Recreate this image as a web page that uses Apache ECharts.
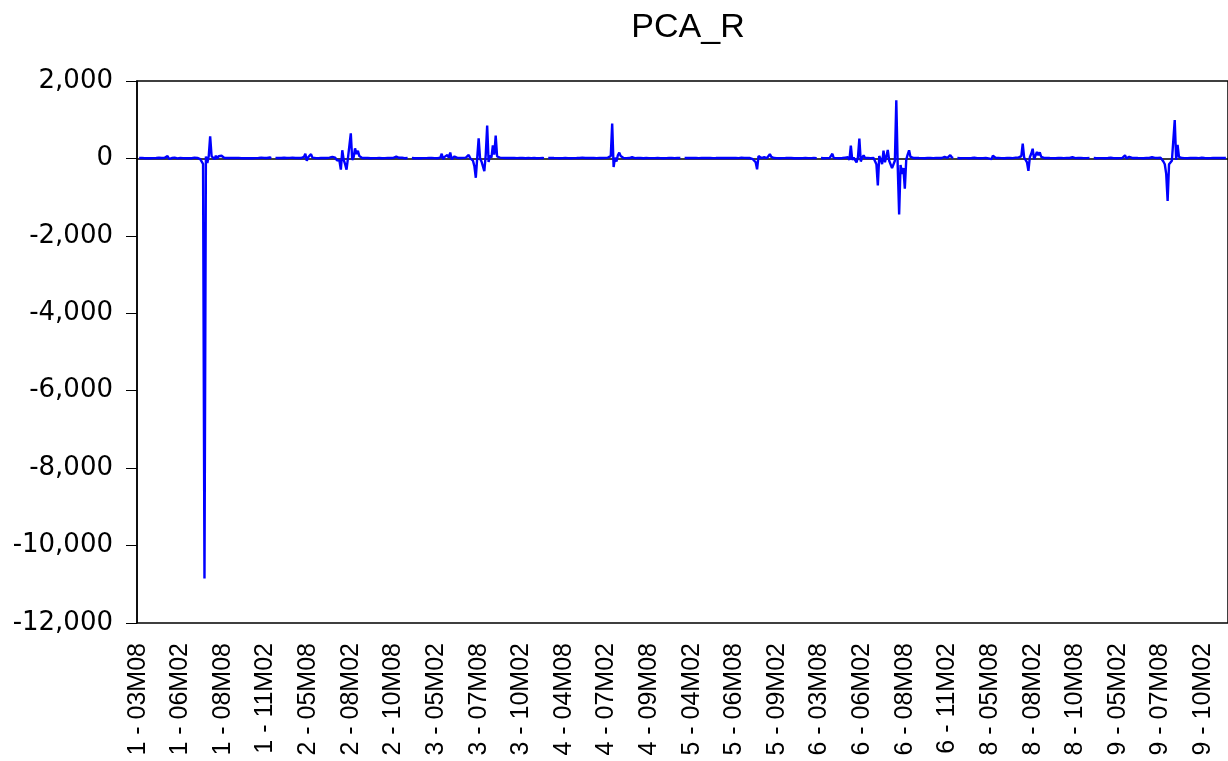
<!DOCTYPE html>
<html>
<head>
<meta charset="utf-8">
<title>PCA_R</title>
<script src="https://cdn.jsdelivr.net/npm/echarts@6/dist/echarts.min.js"></script>
<style>
    html, body { margin: 0; padding: 0; background: #fff; }
    #main { width: 1228px; height: 761px; }
</style>
</head>
<body>
<div id="main"></div>
<script>
// cross-section ids (there is no 7) and the monthly period of each one
var sections = [1, 2, 3, 4, 5, 6, 8, 9];
var startYear = 2003, startMonth = 8, periodsPerSection = 96;

// PCA_R, one array per cross-section (96 months each, null = missing)
var sec1 = [null, 12, 8, 15, 10, 5, 14, 9, 18, 6, 11, 7, 20, 10, 4, 16, 9, 12, 5, 14, 8,
    60, -10, 40, 10, 50, 20, 30, 0, 40, 10,
    15, 8, 12, 5, 18, 9, 14, 6, 10, 20,
    30, 15, 5, -20, -60, -140, -10850, 50, -120, 60, 570, 60, 20, -20, 70, -10, 60, 10, 70, 20, 10,
    8, 14, 6, 12, 9, 15, 5, 11, 7, 13, 10, 4, 16, 8, 12, 6, 14, 9, 20, 5, 11, 7, 15, 10, 6, 18, 9, 13, 5, 12, 8, 25, 10,
    null];
var sec2 = [null, 10, 6, 14, 8, 12, 5, 16, 9, 11, 7, 13, 10, 18, 6, 12, 8, 15,
    30, 10, 20, 40, 120, -60, 30, 10, 110, 20, 60, 10, 30, 5, 15,
    10, 8, 14, 6, 12, 9, 20, 15,
    40, 50, 20, -40, -90, -60, -290, 210, -40, -150, -290, 10, 40, 650, -40, 30, 260, 110, 200, 60, 20,
    12, 8, 15, 6, 10, 14, 5, 11, 9, 16, 7, 12, 10, 18, 6, 13, 8, 11, 15, 5, 12, 9, 14, 7, 45, 10, 16, 8, 20, 12, 6, 14, 10,
    null];
var sec3 = [null, 10, 14, 6, 12, 8, 16, 5, 11, 9, 13, 7, 15, 10, 6, 12, 18, 8, 11, 5, 14, 20,
    120, -20, 40, 0, 90, 20, 150, -20, 30, 50, 10,
    15, 8, 12, 6, 14, 10, 20,
    30, 90, 10, -20, -60, -200, -500, 20, 520, 0, -80, -100, -330, 100, 850, -90, 80, 20, 340, 100, 590, 50, 30, 20,
    10, 14, 6, 12, 9, 15, 8, 11, 5, 13, 10, 7, 16, 12, 8, 14, 9, 6, 40, 11, 15, 8, 12, 10, 50, 6, 14, 9, 30, 12, 8,
    null];
var sec4 = [null, 12, 8, 14, 6, 10, 15, 9, 11, 5, 13, 7, 16, 10, 12, 8, 14, 6, 11, 9, 15,
    10, 5, 12, 8, 20, 14, 10, 6, 12, 9, 15, 8, 11, 13, 7, 10, 14, 6, 12, 9, 15,
    10, 20, 40, 60, 900, -220, 20, -80, 80, 150, 60, 30, 10,
    12, 8, 14, 10, 6, 30, 12, 9, 35, 15, 8, 11, 25, 6, 14, 10, 12, 8, 15, 9,
    11, 7, 13, 10, 16, 8, 12, 6, 14, 9, 10, 15, 8, 12, 20, 7, 11, 14, 9, 12,
    null];
var sec5 = [null, 10, 6, 12, 8, 14, 9, 11, 5, 13, 10, 7, 15, 12, 8, 10, 6, 14, 9, 11, 12,
    8, 16, 10, 5, 13, 9, 11, 7, 14, 10, 12, 6, 15, 8, 11, 9, 13, 10, 7, 12, 20, 8, 14, 25, 10,
    50, 10, 0, -20, -40, -100, -280, 60, 90, 10, -10, 30, 50, 10, 30, 110, 40, 20,
    10, 14, 8, 12, 6, 11, 9, 15, 10, 7, 13, 8, 12, 10, 6, 14, 9, 11, 5, 12, 8, 15, 10, 13, 7, 11, 9, 14, 10, 12, 8,
    null];
var sec6 = [null, 10, 14, 6, 12, 8, 15, 9, 20,
    120, 10, 30, 8, 12, 6, 14, 10, 9,
    20, -20, 30, -40, 330, -40, 20, 10, -100, 30, 510, -80, 20, 80, 10, 20, 10, 15, 8, 12, 10, -20,
    -150, -700, 60, -20, -150, 200, -100, 50, 220, -60, -100, -250, -290, -60, 1500, -200, -1450, -170,
    -400, -250, -780, -30, 100, 210, 40, 10,
    12, 8, 14, 6, 10, 15, 9, 11, 5, 13, 10, 7, 12, 16, 8, 10, 14, 6, 12, 9, 11, 15, 40, 8, 12, 20, 85, 30, 10,
    null];
var sec8 = [null, 10, 14, 6, 12, 8, 15, 9, 11, 5, 13, 10, 7, 16, 12, 8, 14, 6, 11, 9, 15, 10,
    60, 0, 30, -20, 70, 80, 10, 40, 10, 15, 8, 12, 6, 14, 10, 9, 12, 20, 8,
    10, 20, -10, 20, -10, 60, 380, 20, -40, -100, -320, 30, 120, 250, -20, 30, 170, 80, 160, 40, 10,
    12, 8, 14, 6, 10, 15, 9, 11, 5, 13, 10, 7, 12, 16, 8, 10, 14, 6, 12, 9, 30, 15, 8, 11, 14, 10, 12, 35, 9, 13, 7, 11, 10,
    null];
var sec9 = [null, 10, 14, 6, 12, 8, 15, 9, 11, 5, 13, 10, 7, 16, 12, 8, 14, 6, 11, 9,
    60, 10, 30, 80, 0, 50, 40, 10,
    12, 8, 14, 6, 10, 15, 9, 11, 5, 13, 10, 7, 12, 20, 30, 10, 14, 8, 12,
    60, 20, -30, -80, -150, -400, -1100, -150, -100, -60, -50, 990, -40, 350, 40, 20, 10,
    12, 8, 14, 6, 10, 15, 9, 11, 5, 13, 10, 7, 12, 16, 8, 10, 14, 6, 12, 9, 11, 15, 8, 12, 10, 14, 6, 12, 9, 11, 10,
    null];

var yTicks = [-12000, -10000, -8000, -6000, -4000, -2000, 0, 2000];

var values = [].concat(sec1, sec2, sec3, sec4, sec5, sec6, sec8, sec9);

// category names like "1 - 03M08"
var categories = [];
sections.forEach(function (s) {
    for (var k = 0; k < periodsPerSection; k++) {
        var m = startMonth - 1 + k;
        var yy = (startYear + Math.floor(m / 12)) % 100;
        var mm = m % 12 + 1;
        categories.push(s + ' - ' + (yy < 10 ? '0' : '') + yy + 'M' + (mm < 10 ? '0' : '') + mm);
    }
});

var option = {
    animation: false,
    title: {
        text: 'PCA_R',
        left: 683,
        top: 6,
        textAlign: 'center',
        textStyle: {
            color: '#000',
            fontWeight: 'normal',
            fontFamily: 'Liberation Sans',
            fontSize: 34
        }
    },
    tooltip: {
        show: false
    },
    grid: {
        show: true,
        left: 137,
        top: 81,
        width: 1098,
        height: 542,
        borderColor: '#000',
        borderWidth: 1.5
    },
    xAxis: {
        type: 'category',
        data: categories,
        boundaryGap: true,
        axisLine: {
            lineStyle: { color: '#000', width: 1.5 }
        },
        axisTick: {
            alignWithLabel: true,
            length: 9,
            lineStyle: { color: '#000', width: 1 },
            interval: function (index) { return index % 10 === 0; }
        },
        axisLabel: {
            rotate: 90,
            margin: 20,
            color: '#000',
            fontFamily: 'Liberation Sans',
            fontSize: 25,
            interval: function (index) { return index % 30 === 0; }
        },
        splitLine: { show: false }
    },
    yAxis: {
        type: 'value',
        min: yTicks[0],
        max: yTicks[yTicks.length - 1],
        interval: 2000,
        axisLine: {
            show: true,
            lineStyle: { color: '#000', width: 1.5 }
        },
        axisTick: {
            show: true,
            length: 11,
            lineStyle: { color: '#000', width: 1 }
        },
        axisLabel: {
            margin: 24,
            color: '#000',
            fontFamily: 'DejaVu Sans',
            fontSize: 26
        },
        splitLine: { show: false }
    },
    series: [{
        name: 'PCA_R',
        type: 'line',
        data: values,
        showSymbol: false,
        connectNulls: false,
        lineStyle: { color: '#0000ff', width: 2.4 },
        itemStyle: { color: '#0000ff' }
    }]
};

var myChart = echarts.init(document.getElementById('main'));
myChart.setOption(option);
</script>
</body>
</html>
